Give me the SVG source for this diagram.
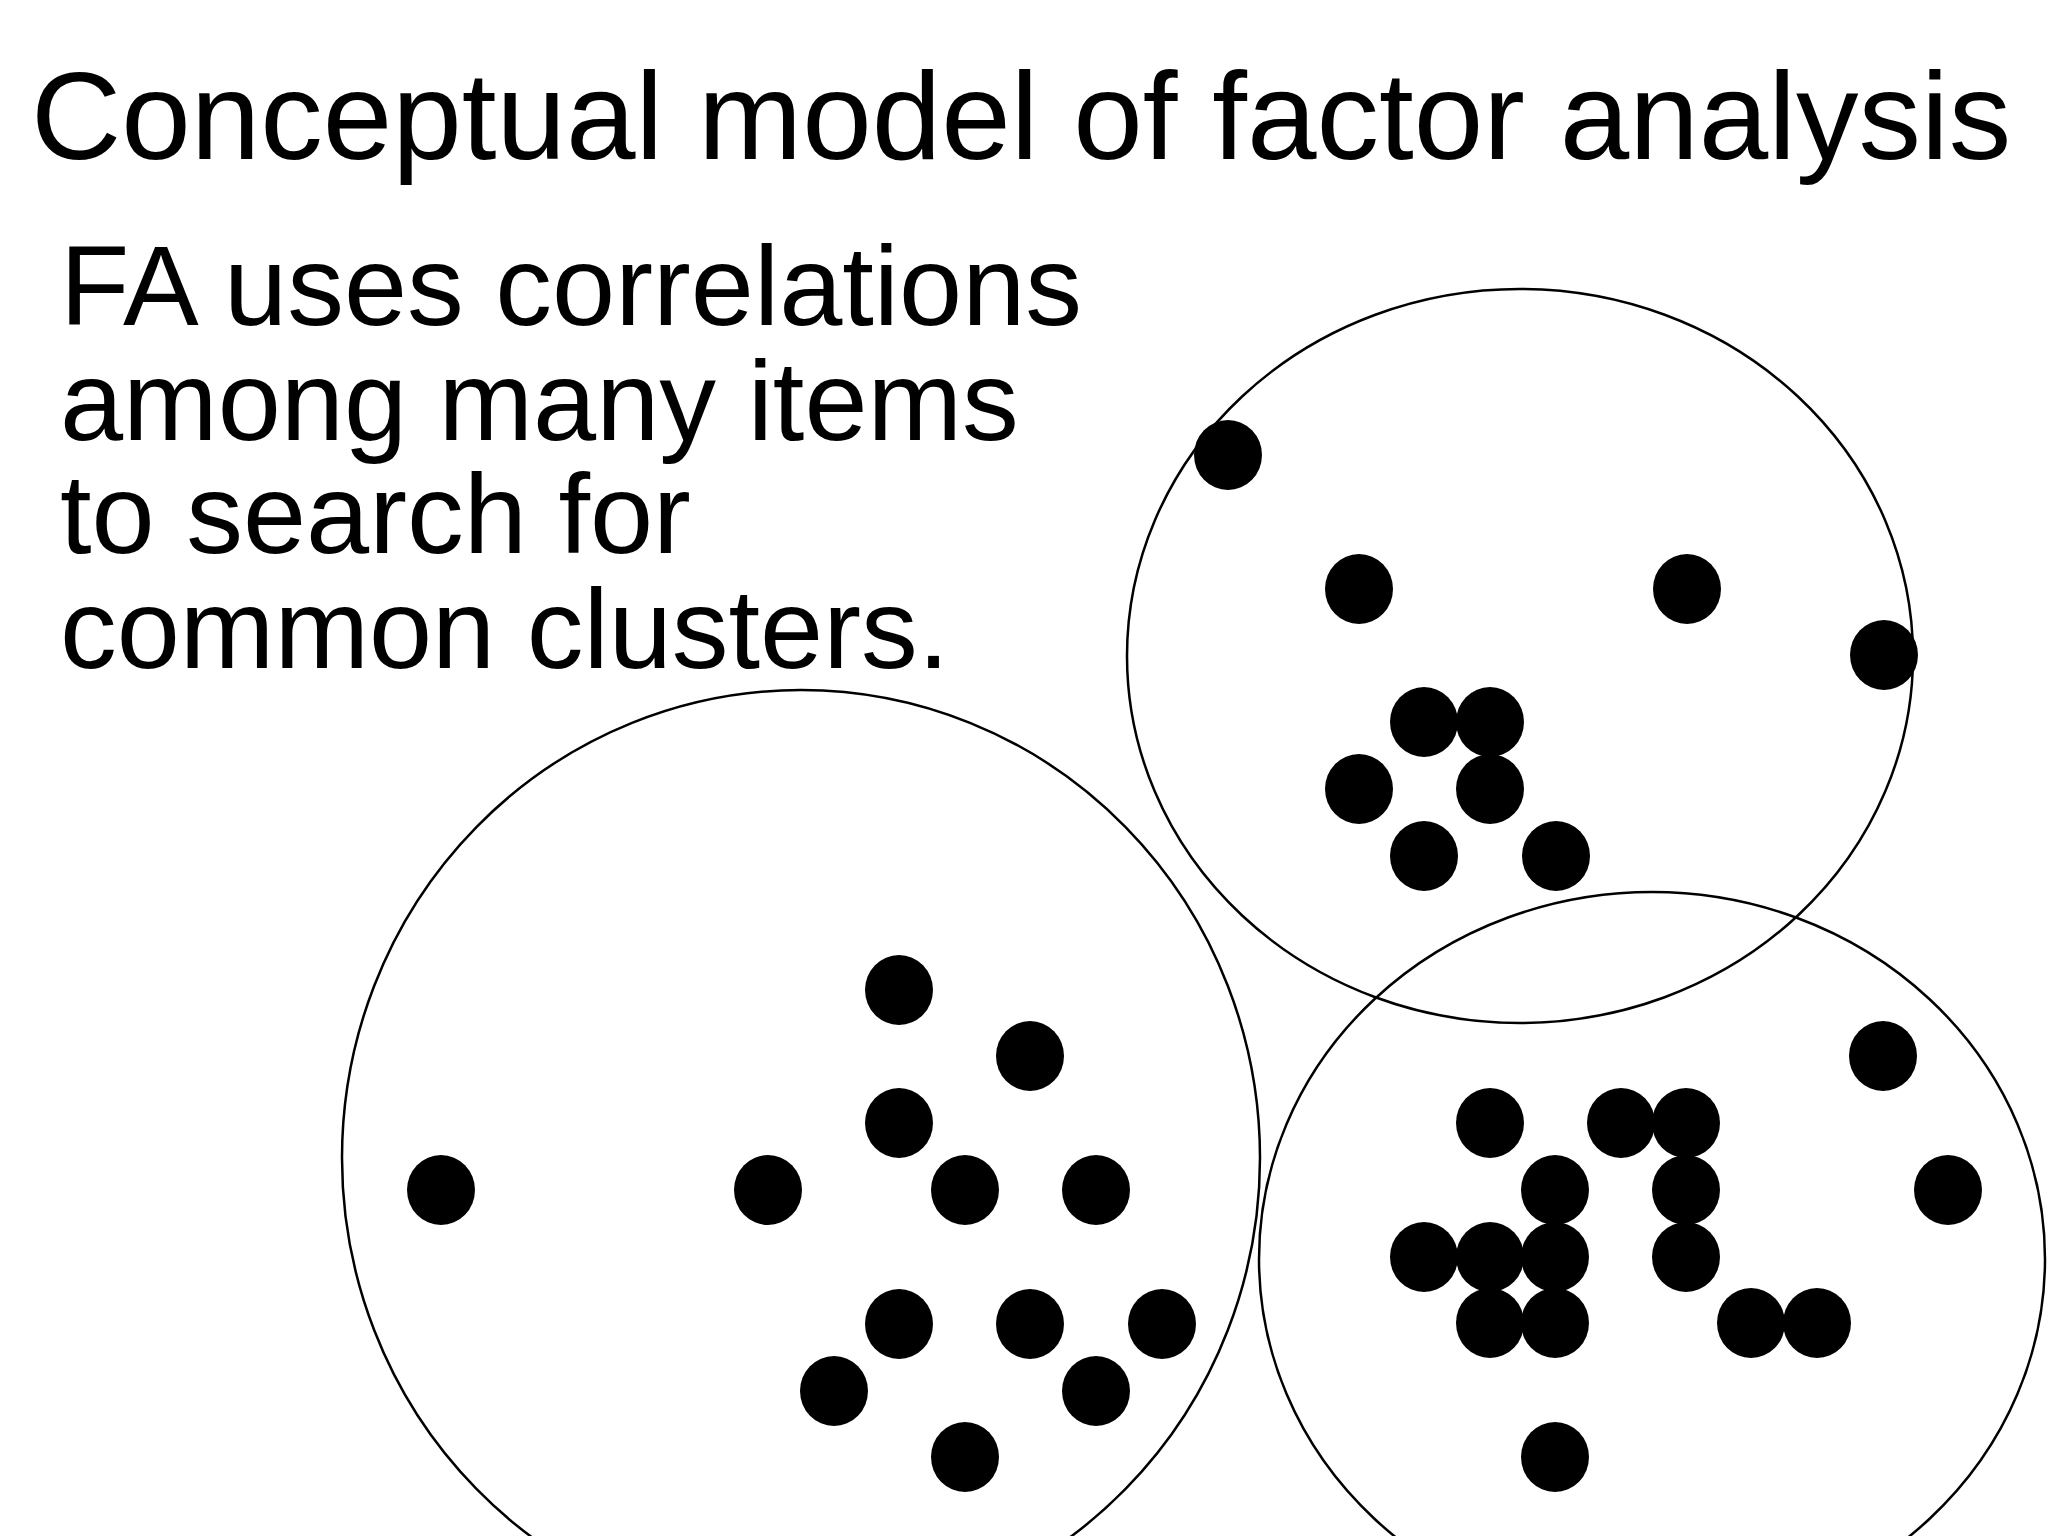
<svg xmlns="http://www.w3.org/2000/svg" width="2048" height="1536" viewBox="0 0 2048 1536">
<style>
.title{font-family:"Liberation Sans",Arial,sans-serif;font-size:125px;fill:#000}
.body{font-family:"Liberation Sans",Arial,sans-serif;font-size:113.5px;fill:#000}
.ring{fill:none;stroke:#000;stroke-width:2.5}
.dot{fill:#000}
</style>
<defs>
<ellipse id="d" rx="34" ry="35" class="dot"/>
</defs>
<rect width="2048" height="1536" fill="#fff"/>
<text id="title" class="title" x="31" y="159">Conceptual model of factor analysis</text>
<g id="description" class="body">
<text x="60" y="325">FA uses correlations</text>
<text x="60" y="439.5">among many items</text>
<text x="60" y="553">to search for</text>
<text x="60" y="668">common clusters.</text>
</g>
<g id="connectors"></g>
<g id="cluster-left">
<ellipse class="ring" cx="801" cy="1158" rx="459" ry="468"/>
<use href="#d" x="441" y="1190"/>
<use href="#d" x="768" y="1190"/>
<use href="#d" x="899" y="990"/>
<use href="#d" x="1030" y="1056"/>
<use href="#d" x="899" y="1123"/>
<use href="#d" x="965" y="1190"/>
<use href="#d" x="1096" y="1190"/>
<use href="#d" x="899" y="1324"/>
<use href="#d" x="1030" y="1324"/>
<use href="#d" x="1162" y="1324"/>
<use href="#d" x="834" y="1391"/>
<use href="#d" x="1096" y="1391"/>
<use href="#d" x="965" y="1457"/>
</g>
<g id="cluster-top">
<ellipse class="ring" cx="1520" cy="656" rx="393" ry="367"/>
<use href="#d" x="1228" y="455"/>
<use href="#d" x="1359" y="589"/>
<use href="#d" x="1687" y="589"/>
<use href="#d" x="1884" y="655"/>
<use href="#d" x="1424" y="722"/>
<use href="#d" x="1490" y="722"/>
<use href="#d" x="1359" y="789"/>
<use href="#d" x="1490" y="789"/>
<use href="#d" x="1424" y="856"/>
<use href="#d" x="1556" y="856"/>
</g>
<g id="cluster-bottom-right">
<ellipse class="ring" cx="1652" cy="1259" rx="393" ry="367"/>
<use href="#d" x="1883" y="1056"/>
<use href="#d" x="1490" y="1123"/>
<use href="#d" x="1621" y="1123"/>
<use href="#d" x="1686" y="1123"/>
<use href="#d" x="1555" y="1190"/>
<use href="#d" x="1686" y="1190"/>
<use href="#d" x="1948" y="1190"/>
<use href="#d" x="1424" y="1257"/>
<use href="#d" x="1490" y="1257"/>
<use href="#d" x="1555" y="1257"/>
<use href="#d" x="1686" y="1257"/>
<use href="#d" x="1490" y="1323"/>
<use href="#d" x="1555" y="1323"/>
<use href="#d" x="1751" y="1323"/>
<use href="#d" x="1817" y="1323"/>
<use href="#d" x="1555" y="1457"/>
</g>
</svg>
